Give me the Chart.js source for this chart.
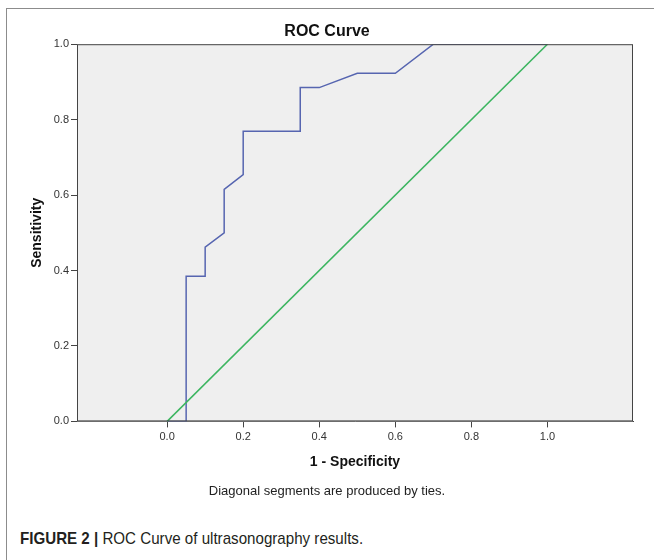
<!DOCTYPE html>
<html>
<head>
<meta charset="utf-8">
<script src="https://cdn.jsdelivr.net/npm/chart.js@4/dist/chart.umd.min.js"></script>
<style>
    body { margin: 0; background: #fff; width: 654px; height: 560px; overflow: hidden; }
    #frame {
        position: absolute; left: 6px; top: 8px; width: 720px; height: 620px;
        border-left: 1px solid #8c8c8c; border-top: 1px solid #8c8c8c;
    }
    #rocChart { position: absolute; left: 0; top: 0; }
    #caption {
        position: absolute; left: 13px; top: 520px;
        font-family: "Liberation Sans", Arial, sans-serif; font-size: 17px;
        line-height: 20px; color: #231f20; white-space: nowrap;
        transform: scaleX(0.89); transform-origin: left center;
    }
    #caption b { font-weight: bold; }
</style>
</head>
<body>
<div id="frame">
    <canvas id="rocChart" width="647" height="505"></canvas>
    <div id="caption"><b>FIGURE 2 |</b> ROC Curve of ultrasonography results.</div>
</div>
<script>
// ROC curve points (1 - specificity, sensitivity)
const fpr = [0, 0.05, 0.05, 0.10, 0.10, 0.15, 0.15, 0.20, 0.20, 0.35, 0.35, 0.40, 0.50, 0.60, 0.70, 1.00];
const tpr = [0, 0, 0.385, 0.385, 0.462, 0.500, 0.615, 0.654, 0.769, 0.769, 0.885, 0.885, 0.923, 0.923, 1.00, 1.00];

// Reference (chance) line
const refX = [0, 1];
const refY = [0, 1];

// Tick labels
const xTicks = [0.0, 0.2, 0.4, 0.6, 0.8, 1.0];
const yTicks = [0.0, 0.2, 0.4, 0.6, 0.8, 1.0];

const toPoints = (xs, ys) => xs.map((x, i) => ({ x: x, y: ys[i] }));

// Grey plot background and box around the plot area
const plotFrame = {
    id: 'plotFrame',
    beforeDatasetsDraw(chart) {
        const { ctx, chartArea: a } = chart;
        ctx.save();
        ctx.fillStyle = '#efefef';
        ctx.fillRect(a.left, a.top, a.right - a.left, a.bottom - a.top);
        ctx.restore();
    },
    afterDraw(chart) {
        const { ctx, chartArea: a } = chart;
        ctx.save();
        ctx.strokeStyle = '#444';
        ctx.lineWidth = 1;
        ctx.strokeRect(a.left + 0.5, a.top + 0.5, a.right - a.left - 1, a.bottom - a.top - 1);
        ctx.restore();
    }
};

const font = 'Liberation Sans, Arial, sans-serif';

new Chart(document.getElementById('rocChart').getContext('2d'), {
    type: 'scatter',
    data: {
        datasets: [
            {
                label: 'Reference',
                data: toPoints(refX, refY),
                showLine: true,
                borderColor: '#3cb560',
                borderWidth: 1.5,
                pointRadius: 0
            },
            {
                label: 'ROC',
                data: toPoints(fpr, tpr),
                showLine: true,
                borderColor: '#5665b0',
                borderWidth: 1.5,
                pointRadius: 0
            }
        ]
    },
    options: {
        responsive: false,
        animation: false,
        layout: { padding: { left: 14, right: 21, top: 0, bottom: 5 } },
        plugins: {
            legend: { display: false },
            tooltip: { enabled: false },
            title: {
                display: true,
                text: 'ROC Curve',
                color: '#111',
                font: { family: font, size: 16, weight: 'bold' },
                padding: { top: 13, bottom: 3 }
            },
            subtitle: {
                display: true,
                position: 'bottom',
                text: 'Diagonal segments are produced by ties.',
                color: '#222',
                font: { family: font, size: 13 },
                padding: { top: 12, bottom: 10 }
            }
        },
        scales: {
            x: {
                type: 'linear',
                min: -0.237,
                max: 1.225,
                afterBuildTicks: scale => { scale.ticks = xTicks.map(v => ({ value: v })); },
                afterFit: scale => { scale.height = 50; },
                ticks: {
                    color: '#333',
                    font: { family: font, size: 11 },
                    padding: 3,
                    callback: v => v.toFixed(1)
                },
                grid: { drawOnChartArea: false, tickLength: 6, color: '#444' },
                border: { color: '#444', width: 1 },
                title: {
                    display: true,
                    text: '1 - Specificity',
                    color: '#111',
                    font: { family: font, size: 14, weight: 'bold' },
                    padding: { top: 0, bottom: 1 }
                }
            },
            y: {
                min: 0,
                max: 1,
                afterBuildTicks: scale => { scale.ticks = yTicks.map(v => ({ value: v })); },
                afterFit: scale => { scale.width = 56; },
                ticks: {
                    color: '#333',
                    font: { family: font, size: 11 },
                    padding: 2,
                    callback: v => v.toFixed(1)
                },
                grid: { drawOnChartArea: false, tickLength: 6, color: '#444' },
                border: { color: '#444', width: 1 },
                title: {
                    display: true,
                    text: 'Sensitivity',
                    color: '#111',
                    font: { family: font, size: 14, weight: 'bold' },
                    padding: { top: 8, bottom: 0 }
                }
            }
        }
    },
    plugins: [plotFrame]
});
</script>
</body>
</html>
